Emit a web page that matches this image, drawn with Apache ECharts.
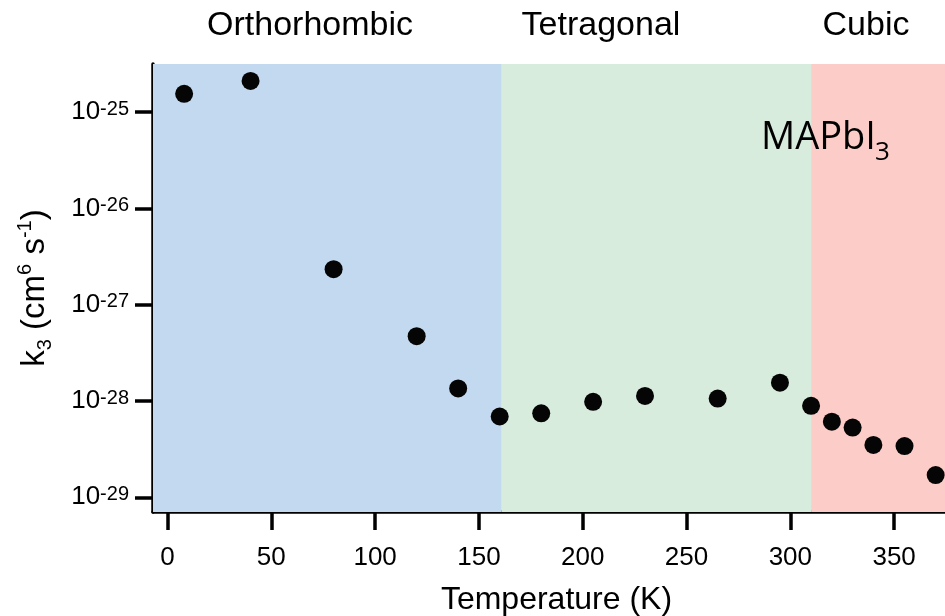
<!DOCTYPE html>
<html>
<head>
<meta charset="utf-8">
<script src="https://cdn.jsdelivr.net/npm/echarts@6/dist/echarts.min.js"></script>
<style>html,body{margin:0;padding:0;background:#fff}#c{width:945px;height:616px}</style>
</head>
<body>
<div id="c"></div>
<script>
// Temperature (K)
var temperatures = [8, 40, 80, 120, 140, 160, 180, 205, 230, 265, 295, 310, 320, 330, 340, 355, 370];
// k3 (cm^6 s^-1)
var k3Values = [1.55e-25, 2.11e-25, 2.34e-27, 4.71e-28, 1.35e-28, 6.9e-29, 7.45e-29, 9.8e-29, 1.13e-28, 1.06e-28, 1.55e-28, 8.9e-29, 6.1e-29, 5.3e-29, 3.5e-29, 3.4e-29, 1.7e-29];
// y tick exponents (labels 10^n)
var yTickExponents = [-29, -28, -27, -26, -25];
var xTickValues = [0, 50, 100, 150, 200, 250, 300, 350];
// phases and their temperature ranges
var phaseNames = ['Orthorhombic', 'Tetragonal', 'Cubic'];
var phaseBounds = [[-7, 161], [161, 310], [310, 374.5]];
var phaseColors = ['#C2D9F0', '#D8ECDE', '#FCCDC8'];

var chart = echarts.init(document.getElementById('c'), null, {renderer: 'canvas'});

var points = temperatures.map(function (t, i) { return [t, Math.log10(k3Values[i])]; });

var option = {
  animation: false,
  grid: {left: 153, right: 0, top: 64, bottom: 104, containLabel: false, outerBoundsMode: 'none'},
  xAxis: {
    type: 'value', min: -7, max: 374.5,
    axisLine: {show: true, onZero: false, lineStyle: {color: '#000', width: 3.5}},
    axisTick: {show: true, length: 18, lineStyle: {color: '#000', width: 3.5}, customValues: xTickValues},
    axisLabel: {customValues: xTickValues, fontFamily: 'Liberation Sans', fontSize: 26, color: '#000', margin: 33},
    splitLine: {show: false},
    name: 'Temperature (K)', nameLocation: 'middle', nameGap: 72,
    nameTextStyle: {fontFamily: 'Liberation Sans', fontSize: 32, color: '#000', padding: [0, 0, 0, 15]}
  },
  yAxis: {
    type: 'value', min: -29.153, max: -24.5,
    axisLine: {show: true, onZero: false, lineStyle: {color: '#000', width: 3.5}},
    axisTick: {show: true, length: 18, lineStyle: {color: '#000', width: 3.5}, customValues: yTickExponents},
    axisLabel: {
      customValues: yTickExponents, margin: 24, color: '#000',
      formatter: function (v) { return '{b|10}{s|' + v + '}'; },
      rich: {
        b: {fontFamily: 'Liberation Sans', fontSize: 26, lineHeight: 26, verticalAlign: 'bottom', color: '#000'},
        s: {fontFamily: 'Liberation Sans', fontSize: 20, lineHeight: 20, verticalAlign: 'top', padding: [0, 0, 16, 0], color: '#000'}
      }
    },
    splitLine: {show: false},
    name: '{a|k}{d|3}{a| (cm}{u|6}{a| s}{u|-1}{a|)}',
    nameLocation: 'middle', nameGap: 98, nameRotate: 90,
    nameTextStyle: {
      rich: {
        a: {fontFamily: 'Liberation Sans', fontSize: 33, lineHeight: 40, color: '#000'},
        u: {fontFamily: 'Liberation Sans', fontSize: 20, lineHeight: 20, verticalAlign: 'top', padding: [0, 0, 20, 0], color: '#000'},
        d: {fontFamily: 'Liberation Sans', fontSize: 20, lineHeight: 20, verticalAlign: 'bottom', padding: [20, 0, 0, 0], color: '#000'}
      }
    }
  },
  series: [
    {
      type: 'line', data: [], z: 1, silent: true,
      markArea: {
        silent: true,
        label: {show: false},
        data: phaseBounds.map(function (b, i) {
          return [{xAxis: b[0], yAxis: -29.153, itemStyle: {color: phaseColors[i], opacity: 1}}, {xAxis: b[1], yAxis: -24.5}];
        })
      }
    },
    {
      type: 'scatter', z: 3, data: points, symbol: 'circle', symbolSize: 18,
      itemStyle: {color: '#050505', opacity: 1}, clip: false
    }
  ],
  graphic: [
    {type: 'text', z: 100, x: 310, y: 26, style: {text: phaseNames[0], font: '34px "Liberation Sans"', fill: '#000', align: 'center', verticalAlign: 'middle'}},
    {type: 'text', z: 100, x: 601, y: 26, style: {text: phaseNames[1], font: '34px "Liberation Sans"', fill: '#000', align: 'center', verticalAlign: 'middle'}},
    {type: 'text', z: 100, x: 866, y: 26, style: {text: phaseNames[2], font: '34px "Liberation Sans"', fill: '#000', align: 'center', verticalAlign: 'middle'}},
    {type: 'text', z: 100, x: 761, y: 138, style: {text: 'MAPbI', font: '38px "Open Sans"', fill: '#000', align: 'left', verticalAlign: 'middle'}},
    {type: 'text', z: 100, x: 875, y: 153, style: {text: '3', font: '26px "Open Sans"', fill: '#000', align: 'left', verticalAlign: 'middle'}}
  ]
};
chart.setOption(option);
</script>
</body>
</html>
